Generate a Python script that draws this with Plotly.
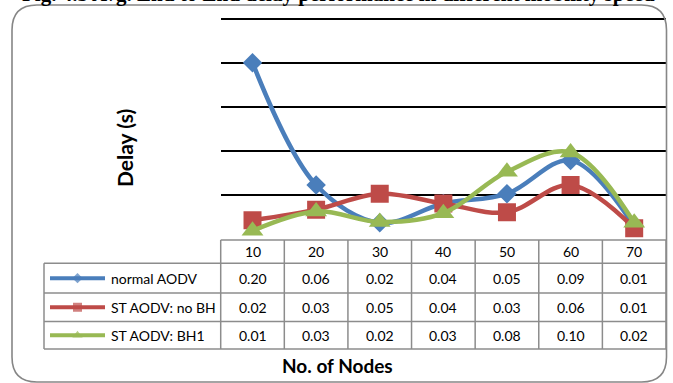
import plotly.graph_objects as go

# ---------------- data ----------------
nodes = [10, 20, 30, 40, 50, 60, 70]
normal_aodv = [0.200, 0.061, 0.018, 0.040, 0.051, 0.089, 0.014]
st_aodv_no_bh = [0.021, 0.033, 0.051, 0.040, 0.030, 0.061, 0.012]
st_aodv_bh1 = [0.009, 0.031, 0.019, 0.029, 0.076, 0.098, 0.018]
series_names = ["normal AODV", "ST AODV: no BH", "ST AODV: BH1"]
grid_values = [0.05, 0.10, 0.15, 0.20, 0.25]
title_text = "Fig. 4.3 Avg. End to End delay performance in different mobility speed"
y_title = "Delay (s)"
x_title = "No. of Nodes"

# ---------------- layout geometry (pixels) ----------------
W, H = 673, 383
PL, PR, PT, PB = 220.7, 666.0, 18.7, 238.7
EXTRA = 3.0                     # headroom so the top gridline is not at the edge
YMAX = 0.25 * (PB - PT + EXTRA) / (PB - PT)
COLW = (PR - PL) / len(nodes)
LEG_L = 44.0
ROW_Y = [240.0, 263.3, 293.0, 321.5, 349.0]

colors = ["#4A7EBB", "#BE4B48", "#98B954"]
symbols = ["diamond", "square", "triangle-up"]
msizes = [15, 18, 19]
key_sizes = [8, 9, 9]
series = [normal_aodv, st_aodv_no_bh, st_aodv_bh1]

TXT = "Lato"
GRID = "#8c8c8c"


def px(x):
    return x / W


def py(y):
    return 1 - y / H


fig = go.Figure()

for name, vals, c, s, ms in zip(series_names, series, colors, symbols, msizes):
    fig.add_trace(go.Scatter(
        x=nodes, y=vals, name=name, mode="lines+markers",
        line=dict(color=c, width=4.5, shape="spline", smoothing=1.0),
        marker=dict(symbol=s, size=ms, color=c, line=dict(width=0)),
        xaxis="x", yaxis="y", showlegend=False, hoverinfo="skip",
    ))

# legend keys inside the data table (pixel overlay axis)
for i, (c, s, ks) in enumerate(zip(colors, symbols, key_sizes)):
    yc = (ROW_Y[i + 1] + ROW_Y[i + 2]) / 2
    fig.add_trace(go.Scatter(
        x=[50, 77.5, 105], y=[yc, yc, yc], mode="lines+markers",
        line=dict(color=c, width=4),
        marker=dict(symbol=s, size=[0, ks, 0], color=c, line=dict(width=0)),
        xaxis="x2", yaxis="y2", showlegend=False, hoverinfo="skip",
        cliponaxis=False,
    ))

shapes = []
# rounded chart border
r = 25
L, R, T, B = 12, 666.5, 5, 382
path = (f"M {px(L + r)},{py(T)} H {px(R - r)} Q {px(R)},{py(T)} {px(R)},{py(T + r)} "
        f"V {py(B - r)} Q {px(R)},{py(B)} {px(R - r)},{py(B)} H {px(L + r)} "
        f"Q {px(L)},{py(B)} {px(L)},{py(B - r)} V {py(T + r)} Q {px(L)},{py(T)} {px(L + r)},{py(T)} Z")
shapes.append(dict(type="path", path=path, xref="paper", yref="paper",
                   line=dict(color="#868686", width=1.6)))

# table lines
shapes.append(dict(type="line", xref="paper", yref="paper",
                   x0=px(PL), x1=px(PR), y0=py(ROW_Y[0]), y1=py(ROW_Y[0]),
                   line=dict(color=GRID, width=1.5)))
for yy in ROW_Y[1:]:
    shapes.append(dict(type="line", xref="paper", yref="paper",
                       x0=px(LEG_L), x1=px(PR), y0=py(yy), y1=py(yy),
                       line=dict(color=GRID, width=1.5)))
shapes.append(dict(type="line", xref="paper", yref="paper",
                   x0=px(LEG_L), x1=px(LEG_L), y0=py(ROW_Y[1]), y1=py(ROW_Y[-1]),
                   line=dict(color=GRID, width=1.5)))
for k in range(len(nodes) + 1):
    xx = PL + k * COLW
    shapes.append(dict(type="line", xref="paper", yref="paper",
                       x0=px(xx), x1=px(xx), y0=py(ROW_Y[0]), y1=py(ROW_Y[-1]),
                       line=dict(color=GRID, width=1.5)))

annotations = []
# header row
for k, n in enumerate(nodes):
    xc = PL + (k + 0.5) * COLW
    annotations.append(dict(x=px(xc), y=py((ROW_Y[0] + ROW_Y[1]) / 2), xref="paper", yref="paper",
                            text=str(n), showarrow=False, xanchor="center", yanchor="middle",
                            font=dict(family=TXT, size=14, color="#000")))
# data rows
for i, (name, vals) in enumerate(zip(series_names, series)):
    yc = (ROW_Y[i + 1] + ROW_Y[i + 2]) / 2
    annotations.append(dict(x=px(109), y=py(yc), xref="paper", yref="paper",
                            text=name, showarrow=False, xanchor="left", yanchor="middle",
                            font=dict(family=TXT, size=14, color="#000")))
    for k, v in enumerate(vals):
        xc = PL + (k + 0.5) * COLW
        annotations.append(dict(x=px(xc), y=py(yc), xref="paper", yref="paper",
                                text=f"{v:.2f}", showarrow=False, xanchor="center", yanchor="middle",
                                font=dict(family=TXT, size=14, color="#000")))

# axis titles
annotations.append(dict(x=px(337), y=py(365), xref="paper", yref="paper", text=f"<b>{x_title}</b>",
                        showarrow=False, xanchor="center", yanchor="middle",
                        font=dict(family=TXT, size=19, color="#000")))
annotations.append(dict(x=px(125), y=py(148), xref="paper", yref="paper", text=f"<b>{y_title}</b>",
                        showarrow=False, xanchor="center", yanchor="middle", textangle=-90,
                        font=dict(family=TXT, size=21, color="#000")))
# partially visible caption at the very top
annotations.append(dict(x=px(338.5), y=py(-6.0), xref="paper", yref="paper", text=f"<b>{title_text}</b>",
                        showarrow=False, xanchor="center", yanchor="middle",
                        font=dict(family="Liberation Serif", size=21, color="#000")))

fig.update_layout(
    width=W, height=H,
    margin=dict(l=0, r=0, t=0, b=0),
    paper_bgcolor="white", plot_bgcolor="rgba(0,0,0,0)",
    xaxis=dict(domain=[px(PL), px(PR)], range=[nodes[0] - 5, nodes[-1] + 5],
               showgrid=False, zeroline=False, showticklabels=False, showline=False, ticks=""),
    yaxis=dict(domain=[py(PB), py(PT - EXTRA)], range=[0, YMAX],
               tickvals=grid_values, showgrid=True, gridcolor="#000000", gridwidth=1.5,
               zeroline=False, showticklabels=False, showline=False, ticks=""),
    xaxis2=dict(domain=[0, 1], range=[0, W], visible=False, anchor="y2"),
    yaxis2=dict(domain=[0, 1], range=[H, 0], visible=False, anchor="x2"),
    shapes=shapes,
    annotations=annotations,
    showlegend=False,
)

fig.write_html("out.html", config={"displayModeBar": False},
               post_script="document.body.style.margin='0';document.body.style.overflow='hidden';")
